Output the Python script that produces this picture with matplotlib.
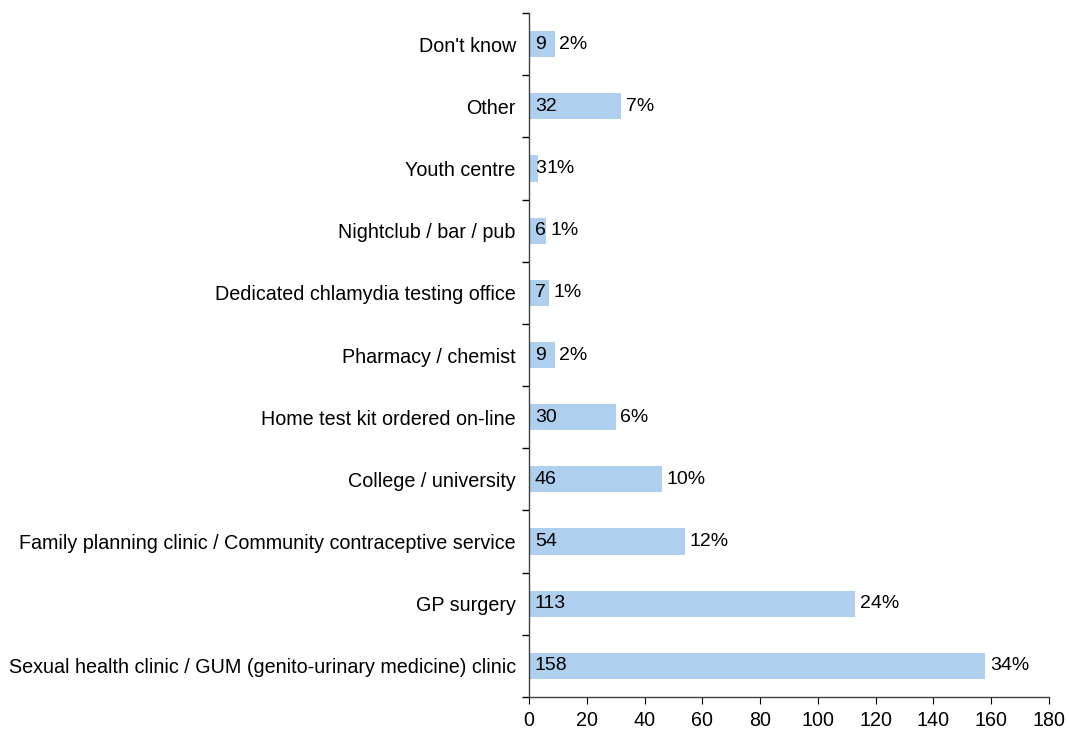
import matplotlib.pyplot as plt
import numpy as np

plt.rcParams['font.family'] = ['Liberation Sans', 'DejaVu Sans']

locais = ["Sexual health clinic / GUM (genito-urinary medicine) clinic",
          "GP surgery",
          "Family planning clinic / Community contraceptive service",
          "College / university",
          "Home test kit ordered on-line",
          "Pharmacy / chemist",
          "Dedicated chlamydia testing office",
          "Nightclub / bar / pub",
          "Youth centre",
          "Other",
          "Don't know"]
contagem = [158, 113, 54, 46, 30, 9, 7, 6, 3, 32, 9]
percentual = ["34%", "24%", "12%", "10%", "6%", "2%", "1%", "1%", "1%", "7%", "2%"]

fig = plt.figure(figsize=(10.7, 7.35), dpi=100)
ax = fig.add_axes([0.4944, 0.0517, 0.486, 0.9306])

pos = np.arange(len(locais))
ax.barh(pos, contagem, height=0.42, color='#AFCFEE')

# rótulos: contagem dentro da barra, percentual depois da barra
# (empurrado para a direita quando a barra é curta demais)
for y, v, p in zip(pos, contagem, percentual):
    ax.text(2, y, str(v), va='center', ha='left', fontsize=14)
    ax.text(max(v, 4.5) + 1.5, y, p, va='center', ha='left', fontsize=14)

ax.set_xlim(0, 180)
ax.set_ylim(-0.5, len(locais) - 0.5)
ax.set_xticks(range(0, 181, 20))
ax.set_yticks(pos)
ax.set_yticklabels(locais)
ax.set_yticks(np.arange(-0.5, len(locais), 1), minor=True)
ax.tick_params(axis='y', which='major', length=0, pad=9.5, labelsize=14.2)
ax.tick_params(axis='y', which='minor', length=5, direction='out', width=1)
ax.tick_params(axis='x', which='major', length=5, direction='out', labelsize=14.2, pad=5)

ax.spines['top'].set_visible(False)
ax.spines['right'].set_visible(False)
for s in ['left', 'bottom']:
    ax.spines[s].set_color('#404040')
    ax.spines[s].set_linewidth(1)

plt.savefig('out.png', dpi=100)
